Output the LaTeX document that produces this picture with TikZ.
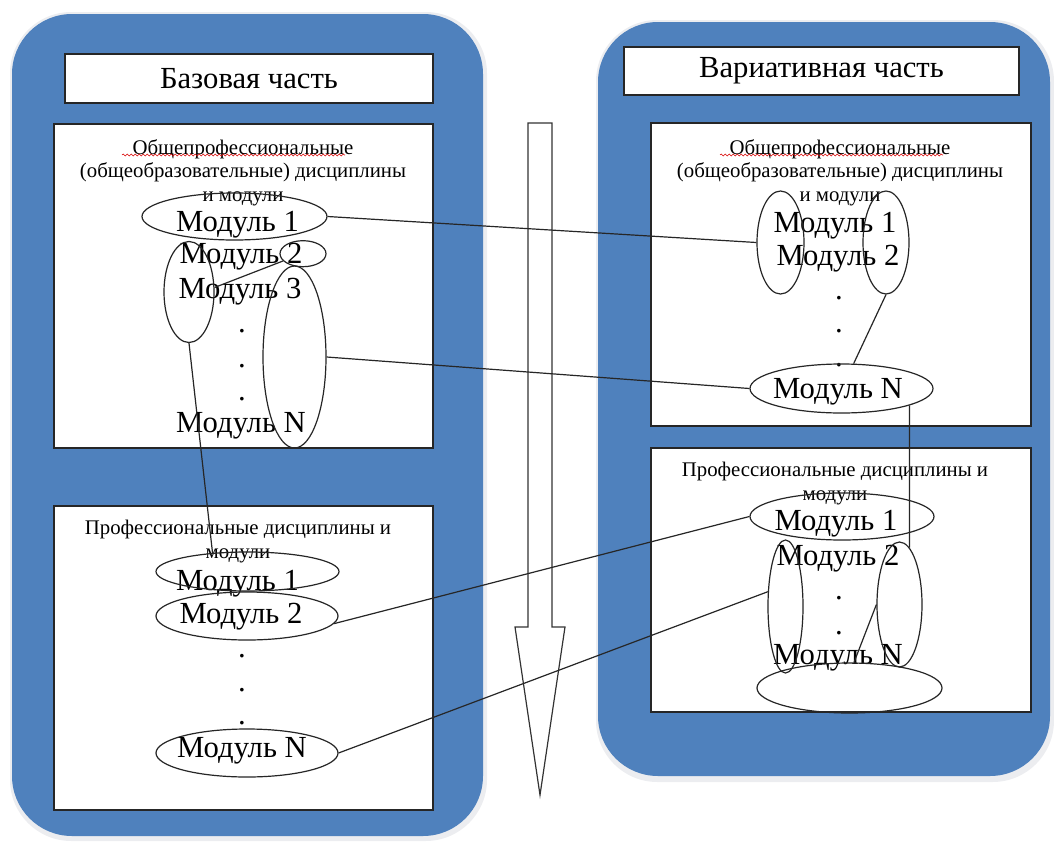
\documentclass[tikz,border=0pt]{standalone}
\usepackage{fontspec}
\setmainfont{Liberation Serif}
\usetikzlibrary{shapes.geometric,decorations.pathmorphing}
\definecolor{panelblue}{HTML}{4F81BD}
\definecolor{glow}{HTML}{ECEDF0}
\begin{document}
\begin{tikzpicture}[x=0.75pt,y=-0.75pt,
  panel/.style={fill=panelblue, draw=none, rounded corners=45pt},
  glowp/.style={fill=glow, draw=none, rounded corners=46pt},
  box/.style={draw=black!85, fill=white, line width=1pt},
  ell/.style={ellipse, draw=black!85, line width=0.9pt, inner sep=0pt},
  mod/.style={font=\fontsize{23}{25}\selectfont, inner sep=0pt, anchor=base},
  hdr/.style={font=\fontsize{15.6}{17.6}\selectfont, align=center, inner sep=0pt, anchor=north},
  ttl/.style={font=\fontsize{23}{25}\selectfont, inner sep=0pt},
  link/.style={draw=black!85, line width=0.9pt},
  spell/.style={draw=red!85!black, line width=0.4pt, decorate,
    decoration={snake, segment length=3pt, amplitude=0.7pt}}]
\useasboundingbox (0,0) rectangle (1054,843);

% panels
\fill[glowp] (10,12) rectangle (487,841);
\fill[panel] (12,14) rectangle (483,836);
\fill[glowp] (596,20) rectangle (1054,782);
\fill[panel] (598,22) rectangle (1050,776);

% title boxes
\draw[box] (65,54) rectangle (433,103);
\node[ttl] (tl) at (249,79) {Базовая часть};
\draw[box] (624,47) rectangle (1019,95);
\node[ttl] (tr) at (821.5,71) {Вариативная часть};

% content boxes
\draw[box] (54,124) rectangle (433,448);
\draw[box] (54,506) rectangle (433,810);
\draw[box] (651,123) rectangle (1031,426);
\draw[box] (651,448) rectangle (1031,712);

% arrow
\draw[draw=black!80, fill=white, line width=0.9pt]
  (528,123) -- (552,123) -- (552,627) -- (565,627) -- (540,795) -- (515,627) -- (528,627) -- cycle;

% ---- left top box texts
\node[hdr] (h1) at (243,139) {Общепрофессиональные\\(общеобразовательные) дисциплины\\и модули};
\draw[spell] (122,155) -- (345,155);
\node[mod] (t11) at (237.5,231) {Модуль 1};
\node[mod] (t12) at (241,263) {Модуль 2};
\node[mod] (t13) at (240,298) {Модуль 3};
\node[mod] (d11) at (242,332) {.};
\node[mod] (d12) at (242,367) {.};
\node[mod] (d13) at (242,400) {.};
\node[mod] (t1n) at (241,432) {Модуль N};

% ---- left bottom box texts
\node[hdr] (h2) at (238,520) {Профессиональные дисциплины и\\модули};
\node[mod] (t21) at (237.5,590) {Модуль 1};
\node[mod] (t22) at (241,623) {Модуль 2};
\node[mod] (d21) at (242,657) {.};
\node[mod] (d22) at (242,691) {.};
\node[mod] (d23) at (242,724) {.};
\node[mod] (t2n) at (242,757) {Модуль N};

% ---- right top box texts
\node[hdr] (h3) at (840,139) {Общепрофессиональные\\(общеобразовательные) дисциплины\\и модули};
\draw[spell] (720,155) -- (943,155);
\node[mod] (t31) at (835,232) {Модуль 1};
\node[mod] (t32) at (838,265) {Модуль 2};
\node[mod] (d31) at (839,299) {.};
\node[mod] (d32) at (839,332) {.};
\node[mod] (d33) at (839,366) {.};
\node[mod] (t3n) at (838,398) {Модуль N};

% ---- right bottom box texts
\node[hdr] (h4) at (835,462) {Профессиональные дисциплины и\\модули};
\node[mod] (t41) at (836,530) {Модуль 1};
\node[mod] (t42) at (838,565) {Модуль 2};
\node[mod] (d41) at (839,599) {.};
\node[mod] (d42) at (839,634) {.};
\node[mod] (t4n) at (838,664) {Модуль N};

% ---- ellipses
\node[ell, minimum width=138.75pt, minimum height=35.25pt] (lm1) at (234.5,216.5) {};
\node[ell, minimum width=34.5pt, minimum height=19.5pt] (ls) at (303,253.7) {};
\node[ell, minimum width=37.5pt, minimum height=75.75pt] (lA) at (189,292) {};
\node[ell, minimum width=47.25pt, minimum height=136.5pt] (lB) at (294.5,357) {};

\node[ell, minimum width=35.25pt, minimum height=77.25pt] (rA) at (780.5,242.5) {};
\node[ell, minimum width=34.5pt, minimum height=77.25pt] (rB) at (886,242.5) {};
\node[ell, minimum width=137.25pt, minimum height=36.75pt] (rN) at (841.5,388.5) {};

\node[ell, minimum width=137.25pt, minimum height=29.25pt] (lbm1) at (247.5,571.5) {};
\node[ell, minimum width=136.5pt, minimum height=36pt] (lbm2) at (247,616) {};
\node[ell, minimum width=136.5pt, minimum height=36pt] (lbmN) at (247,753) {};

\node[ell, minimum width=138pt, minimum height=35.25pt] (rbm1) at (842,516.5) {};
\node[ell, minimum width=26.25pt, minimum height=99.75pt] (rbL) at (785.5,606.5) {};
\node[ell, minimum width=33.75pt, minimum height=93.75pt] (rbR) at (899.5,604.5) {};
\node[ell, minimum width=138.75pt, minimum height=37.5pt] (rbB) at (849.5,688) {};

% ---- connectors
\draw[link] (lm1.east) -- (rA.west);
\draw[link] (lA.10) -- (ls.200);
\draw[link] (lB.east) -- (rN.west);
\draw[link] (rB.south) -- (rN.64);
\draw[link] (rN.-14) -- (rbR.80);
\draw[link] (lA.south) -- (lbm1.152);
\draw[link] (lbm2.-5) -- (rbm1.west);
\draw[link] (lbmN.east) -- (rbL.140);
\draw[link] (rbR.west) -- (rbB.80);
\end{tikzpicture}
\end{document}
